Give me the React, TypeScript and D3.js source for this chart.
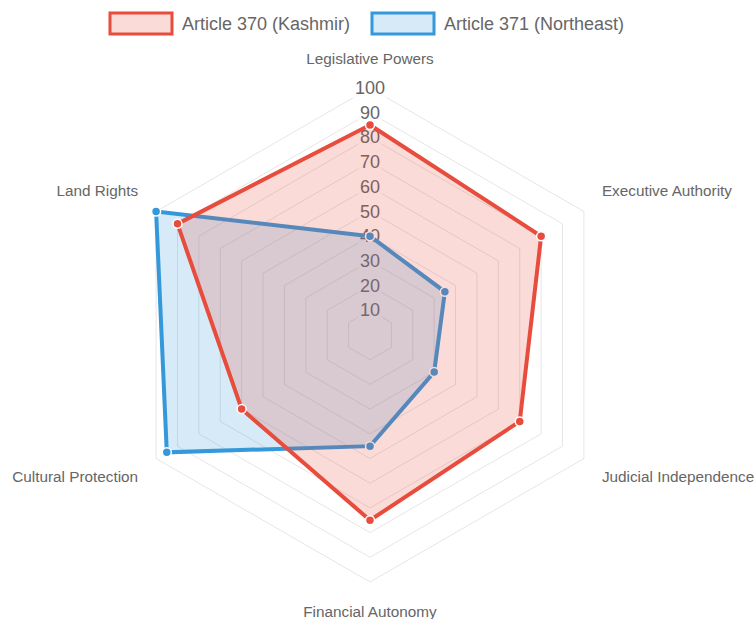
import { useMemo } from "react";
import * as d3 from "d3";

const WIDTH = 756;
const HEIGHT = 619;
const CX = 370;
const CY = 335;
const RADIUS = 247;
const FONT = "'Helvetica Neue', Helvetica, Arial, 'Liberation Sans', sans-serif";

const AXES = [
  "Legislative Powers",
  "Executive Authority",
  "Judicial Independence",
  "Financial Autonomy",
  "Cultural Protection",
  "Land Rights",
];
const KASHMIR = [85, 80, 70, 75, 60, 90];
const NORTHEAST = [40, 35, 30, 45, 95, 100];
const TICKS = [10, 20, 30, 40, 50, 60, 70, 80, 90, 100];

const SERIES = [
  { name: "Article 370 (Kashmir)", values: KASHMIR, stroke: "#e74c3c", fill: "rgba(231,76,60,0.2)" },
  { name: "Article 371 (Northeast)", values: NORTHEAST, stroke: "#3498db", fill: "rgba(52,152,219,0.2)" },
];

export default function App() {
  const r = useMemo(() => d3.scaleLinear().domain([0, 100]).range([0, RADIUS]), []);
  const angle = (i: number) => (i * 2 * Math.PI) / AXES.length;

  const radial = d3
    .lineRadial<number>()
    .angle((_, i) => angle(i))
    .radius((d) => r(d))
    .curve(d3.curveLinearClosed);

  const point = (i: number, v: number) => {
    const a = angle(i);
    return [Math.sin(a) * r(v), -Math.cos(a) * r(v)];
  };

  // chart.js draws the first dataset last, so it sits on top
  const drawOrder = [...SERIES].reverse();

  return (
    <svg
      width={WIDTH}
      height={HEIGHT}
      style={{ position: "absolute", left: 0, top: 0, fontFamily: FONT }}
    >
      {/* legend */}
      {SERIES.map((s, i) => {
        const x0 = i === 0 ? 110 : 372;
        return (
          <g key={s.name}>
            <rect x={x0} y={13} width={62} height={21} fill={s.fill} stroke={s.stroke} strokeWidth={3} />
            <text x={x0 + 72} y={23.5} dominantBaseline="central" fontSize={18} fill="#666">
              {s.name}
            </text>
          </g>
        );
      })}

      <g transform={`translate(${CX},${CY})`}>
        {/* rings */}
        {TICKS.map((t) => (
          <path
            key={t}
            d={radial(AXES.map(() => t)) ?? ""}
            fill="none"
            stroke="rgba(0,0,0,0.1)"
            strokeWidth={1}
          />
        ))}

        {/* tick labels with backdrop */}
        {TICKS.map((t) => {
          const w = String(t).length * 10 + 4;
          return (
            <g key={`tick-${t}`}>
              <rect x={-w / 2} y={-r(t) - 10} width={w} height={20} fill="rgba(255,255,255,0.75)" />
              <text x={0} y={-r(t)} textAnchor="middle" dominantBaseline="central" fontSize={18} fill="#666">
                {t}
              </text>
            </g>
          );
        })}

        {/* datasets */}
        {drawOrder.map((s) => (
          <g key={s.name}>
            <path d={radial(s.values) ?? ""} fill={s.fill} stroke={s.stroke} strokeWidth={4} strokeLinejoin="miter" />
            {s.values.map((v, i) => {
              const [x, y] = point(i, v);
              return <circle key={i} cx={x} cy={y} r={4.5} fill={s.stroke} stroke="#fff" strokeWidth={1.5} />;
            })}
          </g>
        ))}

        {/* axis labels */}
        {AXES.map((label, i) => {
          const [x, y] = point(i, 100);
          const sx = Math.sin(angle(i));
          let anchor = "middle";
          let lx = x;
          let ly = y;
          if (Math.abs(sx) < 0.01) {
            ly = y < 0 ? y - 30 : y + 29;
          } else {
            anchor = sx > 0 ? "start" : "end";
            lx = sx > 0 ? x + 18 : x - 18;
            ly = y < 0 ? y - 21 : y + 18;
          }
          return (
            <text
              key={label}
              x={lx}
              y={ly}
              textAnchor={anchor}
              dominantBaseline="central"
              fontSize={15.3}
              fill="#666"
            >
              {label}
            </text>
          );
        })}
      </g>
    </svg>
  );
}
